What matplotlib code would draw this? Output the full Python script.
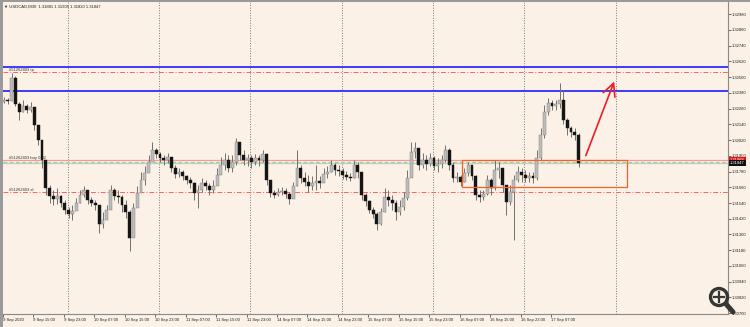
import matplotlib
matplotlib.use('Agg')
import matplotlib.pyplot as plt
from matplotlib.patches import Rectangle, Circle
from matplotlib.lines import Line2D
import numpy as np

# ---------------- data ----------------
header = "\u25BC USDCAD,M30  1.31881 1.31905 1.31820 1.31847"

first_open = 1.32310
close = [1.32325, 1.32317, 1.32493, 1.32295, 1.32234, 1.32279, 1.32249, 1.32272, 1.32135, 1.32020,
         1.31868, 1.31654, 1.31593, 1.31570, 1.31593, 1.31540, 1.31487, 1.31457, 1.31479, 1.31540,
         1.31601, 1.31639, 1.31563, 1.31540, 1.31525, 1.31381, 1.31411, 1.31487, 1.31639, 1.31593,
         1.31586, 1.31525, 1.31472, 1.31273, 1.31502, 1.31616, 1.31715, 1.31769, 1.31853, 1.31944,
         1.31914, 1.31883, 1.31868, 1.31891, 1.31807, 1.31762, 1.31777, 1.31746, 1.31715, 1.31692,
         1.31616, 1.31639, 1.31692, 1.31669, 1.31639, 1.31669, 1.31754, 1.31830, 1.31868, 1.31807,
         1.31853, 1.32005, 1.31906, 1.31868, 1.31883, 1.31853, 1.31883, 1.31868, 1.31914, 1.31715,
         1.31616, 1.31601, 1.31624, 1.31631, 1.31609, 1.31570, 1.31669, 1.31807, 1.31731, 1.31700,
         1.31669, 1.31692, 1.31707, 1.31692, 1.31762, 1.31777, 1.31830, 1.31792, 1.31784, 1.31754,
         1.31739, 1.31731, 1.31830, 1.31777, 1.31601, 1.31555, 1.31487, 1.31457, 1.31381, 1.31472,
         1.31586, 1.31563, 1.31540, 1.31472, 1.31510, 1.31578, 1.31731, 1.31929, 1.31959, 1.31830,
         1.31868, 1.31838, 1.31883, 1.31822, 1.31838, 1.31868, 1.31944, 1.31830, 1.31731, 1.31739,
         1.31700, 1.31769, 1.31830, 1.31746, 1.31601, 1.31586, 1.31609, 1.31715, 1.31654, 1.31792,
         1.31807, 1.31677, 1.31548, 1.31624, 1.31715, 1.31777, 1.31754, 1.31731, 1.31746, 1.31731,
         1.31883, 1.32058, 1.32234, 1.32302, 1.32279, 1.32295, 1.32325, 1.32173, 1.32112, 1.32081,
         1.32058, 1.31847]
high = [1.32348, 1.32340, 1.32531, 1.32508, 1.32310, 1.32325, 1.32295, 1.32310, 1.32234, 1.32135,
        1.31982, 1.31868, 1.31677, 1.31639, 1.31654, 1.31601, 1.31563, 1.31510, 1.31525, 1.31578,
        1.31639, 1.31669, 1.31624, 1.31586, 1.31563, 1.31525, 1.31472, 1.31525, 1.31677, 1.31654,
        1.31639, 1.31601, 1.31563, 1.31487, 1.31540, 1.31669, 1.31777, 1.31822, 1.31906, 1.32005,
        1.31959, 1.31929, 1.31906, 1.31921, 1.31883, 1.31830, 1.31807, 1.31792, 1.31754, 1.31739,
        1.31700, 1.31677, 1.31731, 1.31715, 1.31692, 1.31715, 1.31807, 1.31891, 1.31921, 1.31906,
        1.31906, 1.32035, 1.31982, 1.31944, 1.31914, 1.31906, 1.31914, 1.31906, 1.31944, 1.31921,
        1.31692, 1.31639, 1.31654, 1.31662, 1.31654, 1.31624, 1.31700, 1.31944, 1.31830, 1.31777,
        1.31754, 1.31746, 1.31830, 1.31746, 1.31807, 1.31822, 1.31868, 1.31845, 1.31830, 1.31807,
        1.31784, 1.31769, 1.31868, 1.31853, 1.31777, 1.31616, 1.31563, 1.31510, 1.31472, 1.31502,
        1.31654, 1.31639, 1.31601, 1.31563, 1.31563, 1.31624, 1.31792, 1.32005, 1.32005, 1.31944,
        1.31921, 1.31906, 1.31921, 1.31898, 1.31883, 1.31906, 1.31982, 1.31959, 1.31853, 1.31777,
        1.31754, 1.31807, 1.31853, 1.31830, 1.31754, 1.31639, 1.31639, 1.31754, 1.31731, 1.31868,
        1.31853, 1.31807, 1.31677, 1.31677, 1.31754, 1.31822, 1.31807, 1.31792, 1.31777, 1.31777,
        1.31944, 1.32112, 1.32287, 1.32340, 1.32325, 1.32325, 1.32454, 1.32401, 1.32188, 1.32127,
        1.32112, 1.32073]
low = [1.32302, 1.32295, 1.32317, 1.32279, 1.32173, 1.32234, 1.32226, 1.32234, 1.32096, 1.31982,
       1.31807, 1.31601, 1.31540, 1.31525, 1.31533, 1.31510, 1.31457, 1.31426, 1.31411, 1.31502,
       1.31540, 1.31586, 1.31533, 1.31517, 1.31487, 1.31311, 1.31350, 1.31426, 1.31525, 1.31563,
       1.31540, 1.31472, 1.31426, 1.31174, 1.31319, 1.31525, 1.31624, 1.31677, 1.31777, 1.31868,
       1.31883, 1.31853, 1.31830, 1.31845, 1.31777, 1.31731, 1.31739, 1.31715, 1.31685, 1.31654,
       1.31563, 1.31502, 1.31624, 1.31639, 1.31601, 1.31616, 1.31677, 1.31777, 1.31792, 1.31777,
       1.31777, 1.31830, 1.31868, 1.31830, 1.31822, 1.31807, 1.31830, 1.31822, 1.31853, 1.31677,
       1.31586, 1.31578, 1.31593, 1.31601, 1.31578, 1.31533, 1.31578, 1.31669, 1.31692, 1.31669,
       1.31624, 1.31639, 1.31639, 1.31654, 1.31700, 1.31731, 1.31777, 1.31754, 1.31746, 1.31723,
       1.31715, 1.31707, 1.31731, 1.31731, 1.31563, 1.31517, 1.31464, 1.31426, 1.31334, 1.31373,
       1.31472, 1.31517, 1.31487, 1.31411, 1.31449, 1.31487, 1.31563, 1.31754, 1.31883, 1.31792,
       1.31807, 1.31792, 1.31822, 1.31792, 1.31777, 1.31807, 1.31853, 1.31792, 1.31700, 1.31700,
       1.31669, 1.31700, 1.31746, 1.31715, 1.31563, 1.31548, 1.31563, 1.31601, 1.31601, 1.31639,
       1.31731, 1.31624, 1.31449, 1.31525, 1.31258, 1.31700, 1.31700, 1.31700, 1.31700, 1.31692,
       1.31715, 1.31868, 1.32035, 1.32211, 1.32249, 1.32249, 1.32264, 1.32143, 1.32058, 1.32043,
       1.32020, 1.31815]

# time axis (M30 bar index from 9 Sep 2020 07:00)
xtick_bars = [0, 16, 32, 48, 64, 80, 96, 112, 128, 144, 160, 176, 192, 208, 224, 240, 256, 272, 288]
xtick_labels = ["9 Sep 2020", "9 Sep 15:00", "9 Sep 23:00", "10 Sep 07:00", "10 Sep 15:00",
                "10 Sep 23:00", "11 Sep 07:00", "11 Sep 15:00", "11 Sep 23:00", "14 Sep 07:00",
                "14 Sep 15:00", "14 Sep 23:00", "15 Sep 07:00", "15 Sep 15:00", "15 Sep 23:00",
                "16 Sep 07:00", "16 Sep 15:00", "16 Sep 23:00", "17 Sep 07:00"]
day_start_bars = [34, 82, 130, 178, 226, 274, 322]

ytick_values = [1.32980, 1.32860, 1.32740, 1.32620, 1.32500, 1.32380, 1.32260, 1.32140, 1.32020,
                1.31900, 1.31780, 1.31660, 1.31540, 1.31420, 1.31300, 1.31180, 1.31060, 1.30940,
                1.30820, 1.30700]
ytick_labels = ["1.32980", "1.32860", "1.32740", "1.32620", "1.32500", "1.32380", "1.32260",
                "1.32140", "1.32020", "1.31900", "1.31780", "1.31660", "1.31540", "1.31420",
                "1.31300", "1.31180", "1.31060", "1.30940", "1.30820", "1.30700"]

blue_levels = [1.32576, 1.32393]
tp_level = 1.32538
sl_level = 1.31624
ask_price = 1.31868
bid_price = 1.31847
order_price = 1.31855
order_id = "#51262403"

zone_bars = [241, 328]
zone_prices = [1.31660, 1.31868]
arrow_from = (306.3, 1.31902)
arrow_to = (321.2, 1.32466)

# ---------------- figure ----------------
bg = '#FBF1E6'
W, H = 750, 327
fig = plt.figure(figsize=(W / 100, H / 100), dpi=100)
fig.patch.set_facecolor(bg)
ax = fig.add_axes([3 / W, 13 / H, 725 / W, 312 / H])
ax.set_facecolor(bg)
ax.set_xlim(0.58, 381.0)
ax.set_ylim(1.30694, 1.33072)

for s in ['left', 'top']:
    ax.spines[s].set_visible(False)
for s in ['right', 'bottom']:
    ax.spines[s].set_color('#8a8a8a')
    ax.spines[s].set_linewidth(0.8)

ax.yaxis.tick_right()
ax.set_yticks(ytick_values)
ax.set_yticklabels(ytick_labels)
ax.set_xticks(xtick_bars)
ax.set_xticklabels(xtick_labels, ha='left')
ax.tick_params(axis='both', labelsize=3, colors='#333333', length=2, width=0.5, pad=1)
for lab in ax.get_xticklabels() + ax.get_yticklabels():
    lab.set_family('Liberation Sans')
    lab.set_color('#222222')

# day separators
for b in day_start_bars:
    ax.axvline(b, color='#7a7a7a', lw=0.7, ls=(0, (1, 1.6)), zorder=1)

# horizontal levels
for lv in blue_levels:
    ax.axhline(lv, color='#3b3bff', lw=1.4, zorder=2)
ax.axhline(tp_level, color='#ff6060', lw=0.7, ls=(0, (5, 2, 1, 2)), zorder=2)
ax.axhline(sl_level, color='#ff6060', lw=0.7, ls=(0, (5, 2, 1, 2)), zorder=2)
ax.axhline(ask_price, color='#f59a9a', lw=0.9, zorder=2)
ax.axhline(bid_price, color='#c8c8c8', lw=0.9, zorder=2)
ax.axhline(order_price, color='#8fdc8f', lw=0.9, ls=(0, (3, 2)), zorder=2)

# candles (hourly candles placed on the M30 bar index)
n = len(close)
xs = np.arange(n) * 2 + 0.5
opens = [first_open] + close[:-1]
ax.vlines(xs, low, high, color='#707070', lw=0.7, zorder=3)
for x, o, c in zip(xs, opens, close):
    bottom = min(o, c)
    height = max(abs(c - o), 0.000015)
    if c >= o:
        fc, ec = '#bdbdbd', '#7a7a7a'
    else:
        fc, ec = '#151515', '#151515'
    ax.add_patch(Rectangle((x - 0.75, bottom), 1.5, height, facecolor=fc, edgecolor=ec,
                           lw=0.3, zorder=4))

# zone rectangle
ax.add_patch(Rectangle((zone_bars[0], zone_prices[0]), zone_bars[1] - zone_bars[0],
                       zone_prices[1] - zone_prices[0], fill=False, edgecolor='#f4622b',
                       lw=0.9, zorder=5))

# arrow
ax.annotate('', xy=arrow_to, xytext=arrow_from,
            arrowprops=dict(arrowstyle='->,head_length=0.9,head_width=0.45', color='#ee1c25',
                            lw=1.2, mutation_scale=10, shrinkA=0, shrinkB=0), zorder=6)

# order labels
lab_kw = dict(fontsize=3, color='#333333', family='Liberation Sans', va='bottom', ha='left')
ax.text(3.0, tp_level, f"{order_id} tp", **lab_kw)
ax.text(3.0, ask_price, f"{order_id} buy 0.02", **lab_kw)
ax.text(3.0, sl_level, f"{order_id} sl", **lab_kw)

# price tags on the right axis
ax.text(1.003, ask_price, f"{ask_price:.5f}", transform=ax.get_yaxis_transform(),
        fontsize=3, color='white', family='Liberation Sans', va='center', ha='left',
        bbox=dict(boxstyle='square,pad=0.25', fc='#e81010', ec='none'), zorder=10, clip_on=False)
ax.text(1.003, bid_price - 0.00005, f"{bid_price:.5f}", transform=ax.get_yaxis_transform(),
        fontsize=3, color='white', family='Liberation Sans', va='center', ha='left',
        bbox=dict(boxstyle='square,pad=0.25', fc='#111111', ec='none'), zorder=11, clip_on=False)

# header
fig.text(4 / W, 1 - 7 / H, header, fontsize=3, color='#222222', family=['Liberation Sans', 'DejaVu Sans'],
         va='center', ha='left')

# window border
fig.add_artist(Rectangle((0, 0), 2.5 / W, 1, transform=fig.transFigure, fc='#9a9a9a', ec='none'))
fig.add_artist(Rectangle((0, 1 - 1.5 / H), 1, 1.5 / H, transform=fig.transFigure, fc='#9a9a9a', ec='none'))

# magnifier icon (pixel coordinates)
fig.add_artist(Circle((719, H - 297), 8.5, transform=None, fill=False, ec='#363636', lw=2.4))
fig.add_artist(Line2D([714, 724], [H - 297, H - 297], transform=None, color='#363636', lw=1.6))
fig.add_artist(Line2D([719, 719], [H - 292, H - 302], transform=None, color='#363636', lw=1.6))
fig.add_artist(Line2D([726, 733], [H - 304, H - 312], transform=None, color='#363636', lw=3.6,
                      solid_capstyle='round'))

fig.savefig('out.png', dpi=100, facecolor=bg)
